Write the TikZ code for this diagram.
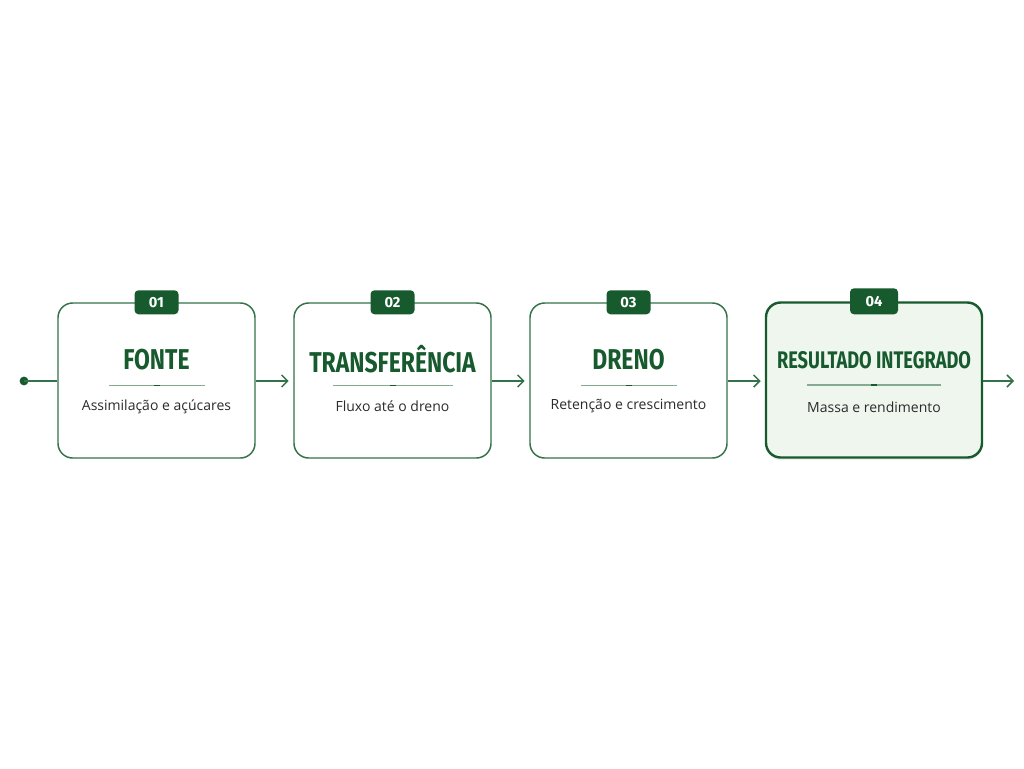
\documentclass[tikz,border=0pt]{standalone}
\usepackage{fontspec}
\setmainfont{Open Sans}
\newfontfamily\titlefont[FakeStretch=0.80]{Fira Sans Bold}
\newfontfamily\narrowtitlefont[FakeStretch=0.76]{Fira Sans Bold}
\newfontfamily\badgefont{Fira Sans Bold}
\usetikzlibrary{calc}
\usetikzlibrary{positioning}
\usetikzlibrary{shadows}
\usetikzlibrary{arrows.meta}

\definecolor{leafdark}{HTML}{165A2E}
\definecolor{leafline}{HTML}{34724A}
\definecolor{leaffill}{HTML}{EEF6EE}
\definecolor{inktext}{HTML}{2B2B2B}

\begin{document}
\begin{tikzpicture}[
      x=0.75pt, y=-0.75pt,
      stagebox/.style={draw=leafline, line width=1.1pt, rounded corners=11pt, fill=white,
        minimum width=147.75pt, minimum height=116.25pt},
      finalbox/.style={stagebox, line width=1.8pt, draw=leafdark, fill=leaffill,
        minimum width=162pt, drop shadow={shadow xshift=0pt, shadow yshift=-2pt, opacity=0.12}},
      badge/.style={fill=leafdark, rounded corners=3pt, text=white, inner sep=0pt,
        minimum width=33pt, minimum height=18pt, font=\badgefont\fontsize{11}{12}\selectfont},
      stagetitle/.style={text=leafdark, inner sep=0pt, font=\titlefont\fontsize{21.5}{24}\selectfont},
      stagesub/.style={text=inktext, inner sep=0pt, font=\fontsize{10.5}{13}\selectfont},
      flow/.style={draw=leafline, line width=1.1pt, -{Straight Barb[length=4.5pt,width=9pt,line width=1.1pt]}}
    ]
    \useasboundingbox (0,0) rectangle (1024,768);
    \fill[white] (0,0) rectangle (1024,768);

    % etapas
    \node[stagebox] (fonte) at (156.5,380.5) {};
    \node[stagebox] (transf) at (392.5,380.5) {};
    \node[stagebox] (dreno) at (628.5,380.5) {};
    \node[finalbox] (result) at (874,380) {};

    % numeros
    \node[badge] at (fonte.north) {01};
    \node[badge] at (transf.north) {02};
    \node[badge] at (dreno.north) {03};
    \node[badge, minimum width=36pt, minimum height=19.5pt] at (result.north) {04};

    % titulos e textos
    \foreach \n/\t/\s in {fonte/FONTE/{Assimilação e açúcares},
                          transf/TRANSFERÊNCIA/{Fluxo até o dreno},
                          dreno/DRENO/{Retenção e crescimento}}{
      \node[stagetitle] (\n-t) at ($(\n.center)+(0,-21)$) {\t};
      \node[stagesub] (\n-s) at ($(\n.center)+(0,26)$) {\s};
    }
    \node[stagetitle, font=\narrowtitlefont\fontsize{18}{22}\selectfont] (result-t)
      at ($(result.center)+(0,-20)$) {RESULTADO INTEGRADO};
    \node[stagesub] (result-s) at ($(result.center)+(0,27)$) {Massa e rendimento};

    % divisores
    \foreach \n/\w in {fonte/48, transf/60, dreno/48, result/67}{
      \draw[leafline!60, line width=0.8pt] ($(\n.center)+(-\w,5)$) -- ($(\n.center)+(\w,5)$);
      \draw[leafdark, line width=1.4pt] ($(\n.center)+(-3,5)$) -- ($(\n.center)+(3,5)$);
    }

    % setas
    \coordinate (inicio) at (24,381);
    \coordinate (fim) at (1014,381);
    \fill[leafdark] (inicio) circle (3.3pt);
    \draw[leafline, line width=1.1pt] (inicio) -- (fonte.west |- inicio);
    \draw[flow] (fonte.east |- inicio) -- ++(33,0);
    \draw[flow] (transf.east |- inicio) -- ++(33,0);
    \draw[flow] (dreno.east |- inicio) -- ++(33,0);
    \draw[flow] (result.east |- inicio) -- (fim);
  \end{tikzpicture}
\end{document}
